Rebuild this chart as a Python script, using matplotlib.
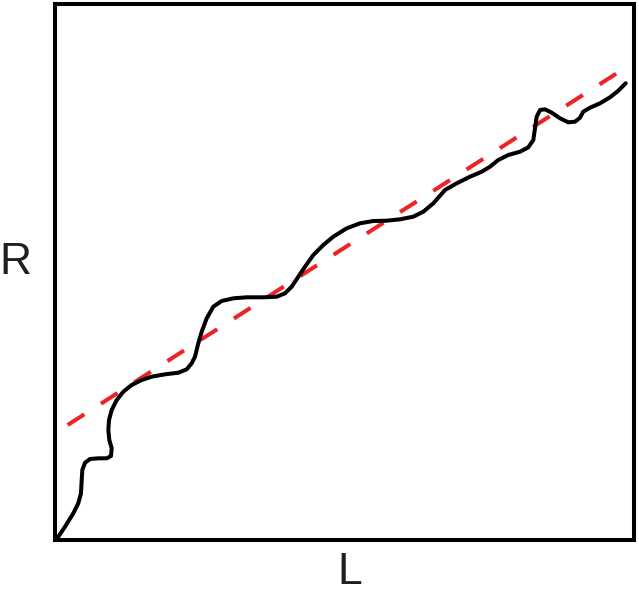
import matplotlib
matplotlib.use("Agg")
import matplotlib.pyplot as plt

# wavy curve (L, R as % of the box)
curve_l = [0.1, 0.57, 1.73, 3.16, 4.02, 4.49, 4.61, 4.72, 5.18, 6.04, 7.48,
           8.93, 9.67, 9.79, 9.38, 9.21, 9.33, 9.79, 10.66, 11.80, 13.25,
           14.97, 16.70, 19.00, 21.30, 22.75, 23.61, 24.18, 24.75, 25.34,
           26.20, 27.34, 28.79, 30.79, 33.11, 35.98, 38.29, 39.72, 40.88,
           42.02, 43.18, 44.61, 46.34, 48.07, 50.38, 52.68, 54.97, 57.29,
           59.59, 61.88, 63.61, 65.34, 67.36, 69.38, 71.68, 73.70, 75.13,
           76.56, 78.29, 80.31, 81.74, 82.61, 82.90, 83.19, 83.77, 84.63,
           85.79, 87.22, 88.65, 89.81, 90.67, 91.24, 92.40, 94.13, 95.85,
           97.29, 98.57]
curve_r = [0.2, 0.62, 2.48, 4.98, 6.85, 8.71, 11.19, 13.06, 14.42, 15.11,
           15.24, 15.24, 15.67, 17.11, 18.66, 20.52, 22.39, 24.25, 26.12,
           27.67, 28.92, 29.85, 30.47, 30.91, 31.21, 31.85, 32.97, 34.20,
           36.70, 38.86, 41.36, 43.53, 44.59, 45.09, 45.28, 45.28, 45.39,
           46.03, 47.26, 49.12, 50.99, 53.17, 55.04, 56.59, 58.15, 59.09,
           59.51, 59.57, 59.83, 60.32, 61.25, 62.82, 65.30, 66.55, 67.78,
           68.71, 69.65, 70.90, 71.83, 72.44, 73.26, 74.63, 76.81, 78.97,
           80.22, 80.35, 79.72, 78.68, 77.93, 78.04, 78.79, 79.91, 80.65,
           81.47, 82.59, 83.82, 85.21]

# dashed trend line endpoints
trend_l = [2.19, 97.46]
trend_r = [21.46, 87.37]

W, H = 639, 592
fig = plt.figure(figsize=(W / 100, H / 100), dpi=100)
ax = fig.add_axes([55 / W, (H - 540) / H, (634 - 55) / W, (540 - 4) / H])

LW = 2.9
ax.plot(curve_l, curve_r, color="black", lw=LW, solid_joinstyle="round",
        solid_capstyle="round", zorder=3)
ax.plot(trend_l, trend_r, color="#ee2228", lw=LW, dashes=(4.9, 4.9), zorder=2)

ax.set_xlim(0, 100)
ax.set_ylim(0, 100)
ax.set_xticks([])
ax.set_yticks([])
for s in ax.spines.values():
    s.set_linewidth(LW)
    s.set_color("black")

fig.text(15 / W, 1 - 263 / H, "R", fontsize=32, family="Liberation Sans",
         ha="center", va="center", color="#231f20")
fig.text(350 / W, 1 - 572 / H, "L", fontsize=32, family="Liberation Sans",
         ha="center", va="center", color="#231f20")

fig.savefig("out.png", dpi=100)
